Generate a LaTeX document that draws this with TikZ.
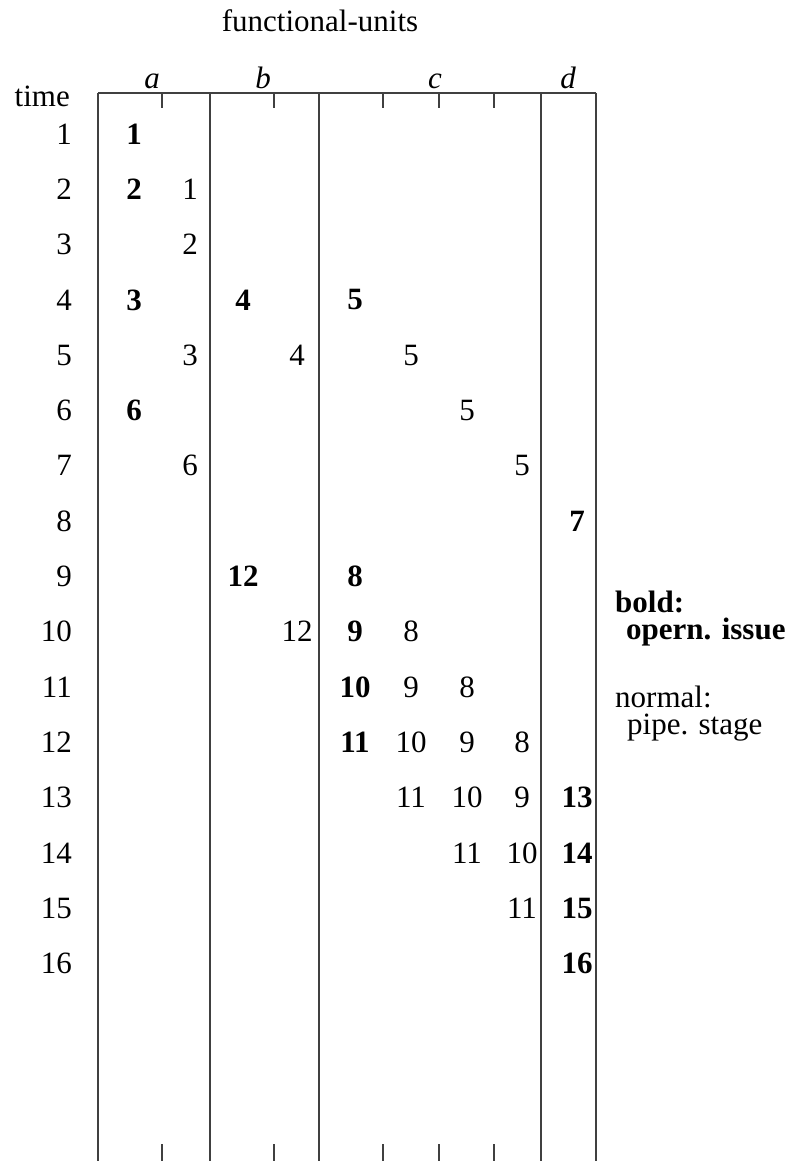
\documentclass[tikz,border=0pt]{standalone}
\usepackage{fontspec}
\setmainfont{Liberation Serif}
\usetikzlibrary{positioning}

\begin{document}
\begin{tikzpicture}[x=1pt, y=-1pt, every node/.style={inner sep=0pt, font=\fontsize{31}{27}\selectfont},
    issue/.style={font=\fontsize{31}{27}\selectfont\bfseries},
    unit/.style={font=\fontsize{31}{27}\selectfont\itshape, anchor=base},
    rule/.style={black!75, line width=1.1pt}]
    \useasboundingbox (0,0) rectangle (806,1161);

    % header
    \node[anchor=base] (title) at (320,32) {functional-units};
    \node[unit] (ua) at (152,89) {a};
    \node[unit] (ub) at (263,89) {b};
    \node[unit] (uc) at (435,89) {c};
    \node[unit] (ud) at (568,89) {d};
    \node[anchor=base east] (time) at (70,107) {time};

    % table rules
    \draw[rule] (98,93) -- (596,93);
    \foreach \x in {98,210,319,541,596}
        \draw[rule] (\x,93) -- (\x,1161);
    \foreach \x in {162,274,383,439,494} {
        \draw[rule] (\x,93) -- (\x,108);
        \draw[rule] (\x,1144) -- (\x,1161);
    }

    % columns
    \foreach \c/\x in {a1/134, a2/190, b1/243, b2/297, c1/355, c2/411, c3/467, c4/522, d/577}
        \coordinate (\c) at (\x,93);

    % time steps
    \foreach \r in {1,...,16}
        \node[anchor=east] (t\r) at (72,{134+(\r-1)*55.3}) {\r};

    % operation issue
    \foreach \r/\c/\v in {1/a1/1, 2/a1/2, 4/a1/3, 4/b1/4, 4/c1/5, 6/a1/6, 8/d/7, 9/b1/12, 9/c1/8,
                          10/c1/9, 11/c1/10, 12/c1/11, 13/d/13, 14/d/14, 15/d/15, 16/d/16}
        \node[issue] (op-\r-\c) at (\c |- t\r) {\v};

    % pipeline stages
    \foreach \r/\c/\v in {2/a2/1, 3/a2/2, 5/a2/3, 5/b2/4, 5/c2/5, 6/c3/5, 7/a2/6, 7/c4/5,
                          10/b2/12, 10/c2/8, 11/c2/9, 11/c3/8, 12/c2/10, 12/c3/9, 12/c4/8,
                          13/c2/11, 13/c3/10, 13/c4/9, 14/c3/11, 14/c4/10, 15/c4/11}
        \node (st-\r-\c) at (\c |- t\r) {\v};

    % legend
    \node[issue, anchor=north west, align=left] (boldkey) at (615,591) {bold:\\\hspace*{11pt}opern. issue};
    \node[anchor=north west, align=left] (normkey) at (615,686) {normal:\\\hspace*{12pt}pipe. stage};
\end{tikzpicture}
\end{document}
